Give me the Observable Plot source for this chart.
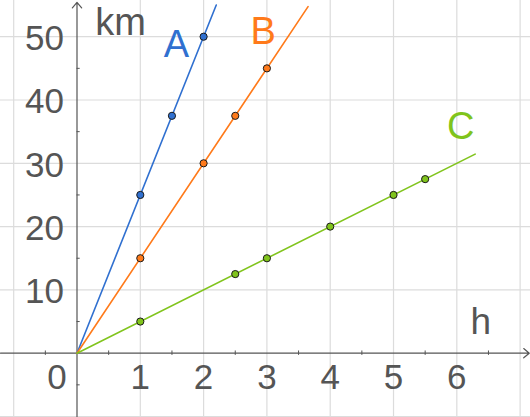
<!DOCTYPE html>
<html>
<head>
<meta charset="utf-8">
<script src="https://cdn.jsdelivr.net/npm/d3@7"></script>
<script src="https://cdn.jsdelivr.net/npm/@observablehq/plot@0.6"></script>
<style>
  body { margin: 0; background: #fff; }
  #chart svg { display: block; }
</style>
</head>
<body>
<div id="chart"></div>
<script>
// data (h -> km)
const ptsA = [[1, 25], [1.5, 37.5], [2, 50]];
const ptsB = [[1, 15], [2, 30], [2.5, 37.5], [3, 45]];
const ptsC = [[1, 5], [2.5, 12.5], [3, 15], [4, 20], [5, 25], [5.5, 27.5]];

// visible line segments, from origin to where they leave the view
const lineA = [[0, 0], [2.2, 55]];
const lineB = [[0, 0], [3.65, 54.75]];
const lineC = [[0, 0], [6.29, 31.45]];

const xTicks = [1, 2, 3, 4, 5, 6];
const yTicks = [10, 20, 30, 40, 50];
const xGrid = [-1, 0, 1, 2, 3, 4, 5, 6, 7];
const yGrid = [-10, 0, 10, 20, 30, 40, 50];
const xMinor = [-0.5, 0.5, 1.5, 2.5, 3.5, 4.5, 5.5, 6.5];
const yMinor = [-5, 5, 15, 25, 35, 45];

const names = [
  {text: "A", x: 1.57, y: 46.8, color: "#3070d0"},
  {text: "B", x: 2.94, y: 48.9, color: "#ff7a1a"},
  {text: "C", x: 6.06, y: 33.8, color: "#80c41c"}
];

const xDom = [-1.2085, 7.164];
const yDom = [-10.16, 55.72];

const axisCol = "#555";
const gridCol = "#dcdcdc";
const font = "Liberation Sans, Arial, sans-serif";

const series = [
  [lineA, ptsA, names[0].color],
  [lineB, ptsB, names[1].color],
  [lineC, ptsC, names[2].color]
];

const plot = Plot.plot({
  width: 530,
  height: 417,
  margin: 0,
  style: {background: "#fff", fontFamily: font, overflow: "visible"},
  x: {domain: xDom, axis: null},
  y: {domain: yDom, axis: null},
  marks: [
    // grid
    Plot.ruleX(xGrid.filter(d => d !== 0), {stroke: gridCol, strokeWidth: 1.2}),
    Plot.ruleY(yGrid.filter(d => d !== 0), {stroke: gridCol, strokeWidth: 1.2}),

    // axes with open arrows
    Plot.arrow([0], {x1: xDom[0], y1: 0, x2: xDom[1] - 0.02, y2: 0,
      stroke: axisCol, strokeWidth: 1.2, headLength: 9, headAngle: 80}),
    Plot.arrow([0], {x1: 0, y1: yDom[0], x2: 0, y2: yDom[1] - 0.3,
      stroke: axisCol, strokeWidth: 1.2, headLength: 9, headAngle: 80}),

    // minor ticks
    Plot.ruleX(xMinor, {y1: -0.35, y2: 0.35, stroke: axisCol}),
    Plot.ruleY(yMinor, {x1: 0, x2: 0.05, stroke: axisCol}),

    // lines + points
    ...series.map(([ln, , c]) => Plot.line(ln, {x: d => d[0], y: d => d[1], stroke: c, strokeWidth: 1.6})),
    ...series.map(([, pts, c]) => Plot.dot(pts, {x: d => d[0], y: d => d[1], r: 3.6, fill: c, stroke: "#1a1a1a", strokeWidth: 1})),

    // tick labels
    Plot.text(xTicks, {x: d => d, y: 0, text: d => String(d), dy: 25,
      fontSize: 35, fill: axisCol}),
    Plot.text([0], {x: 0, y: 0, text: d => String(d), dx: -20, dy: 25,
      fontSize: 35, fill: axisCol}),
    Plot.text(yTicks, {x: 0, y: d => d, text: d => String(d), dx: -13, dy: 2,
      textAnchor: "end", fontSize: 35, fill: axisCol}),

    // axis titles
    Plot.text(["km"], {x: 0.29, y: 50.2, text: d => d, textAnchor: "start",
      lineAnchor: "bottom", fontSize: 38, fill: axisCol}),
    Plot.text(["h"], {x: 6.38, y: 3.06, text: d => d,
      lineAnchor: "bottom", fontSize: 37, fill: axisCol}),

    // series names
    Plot.text(names, {x: "x", y: "y", text: "text", fill: d => d.color,
      lineAnchor: "bottom", fontSize: 38})
  ]
});

document.getElementById("chart").append(plot);
</script>
</body>
</html>
